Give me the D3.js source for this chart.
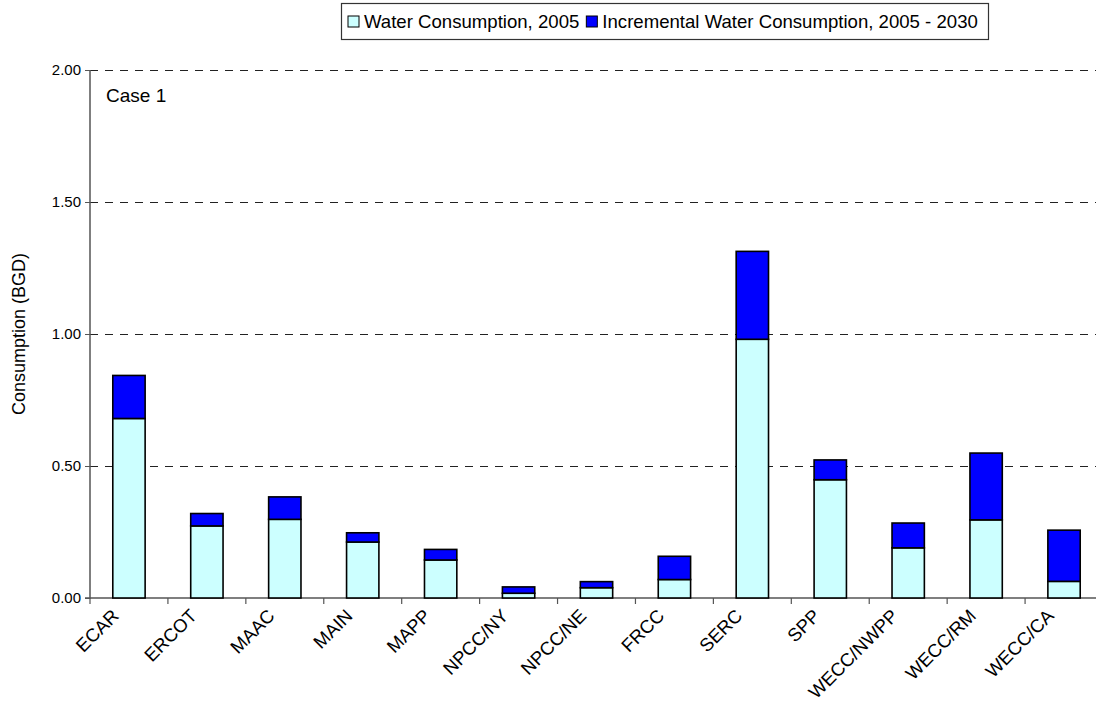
<!DOCTYPE html>
<html><head><meta charset="utf-8">
<script src="https://cdn.jsdelivr.net/npm/d3@7"></script>
<style>body{margin:0;background:#fff;} svg{display:block;font-family:"Liberation Sans",Arial,sans-serif;}</style>
</head><body><svg id="c" width="1096" height="702"></svg>
<script>
const categories = ["ECAR","ERCOT","MAAC","MAIN","MAPP","NPCC/NY","NPCC/NE","FRCC","SERC","SPP","WECC/NWPP","WECC/RM","WECC/CA"];
const base2005 = [0.68,0.273,0.298,0.212,0.144,0.018,0.039,0.07,0.98,0.448,0.19,0.296,0.063];
const incremental = [0.163,0.047,0.085,0.035,0.040,0.024,0.023,0.088,0.333,0.075,0.094,0.253,0.194];
const yTicks = [0,0.5,1.0,1.5,2.0];
const seriesNames = ["Water Consumption, 2005","Incremental Water Consumption, 2005 - 2030"];
const colors = ["#CCFFFF","#0000FF"];

const svg = d3.select("#c");
const L = 90, R = 1103, T = 70, B = 598;
const x = d3.scaleBand().domain(categories).range([L,R]).padding(0);
const y = d3.scaleLinear().domain([0,2]).range([B,T]);
const bw = x.bandwidth()*0.415;

// gridlines
svg.append("g").selectAll("line").data(yTicks.filter(d=>d>0)).join("line")
  .attr("x1",L).attr("x2",1096).attr("y1",d=>Math.round(y(d))+0.5).attr("y2",d=>Math.round(y(d))+0.5)
  .attr("stroke","#222").attr("stroke-width",1).attr("stroke-dasharray","8,7");

// y axis
const ya = svg.append("g").attr("transform",`translate(${L},0)`)
  .call(d3.axisLeft(y).tickValues(yTicks).tickFormat(d3.format(".2f")).tickSize(5).tickPadding(4));
ya.select(".domain").attr("stroke","#555").attr("stroke-width",1.5).attr("d",`M-5,${B}H0V${T}`);
ya.selectAll(".tick line").attr("stroke","#555");
ya.selectAll(".tick text").attr("font-size",15).attr("fill","#000").attr("font-family","Liberation Sans, Arial, sans-serif");

// x axis
const xa = svg.append("g").attr("transform",`translate(0,${B})`)
  .call(d3.axisBottom(x).tickSize(0).tickFormat(""));
xa.select(".domain").attr("stroke","#555").attr("stroke-width",1.5).attr("d",`M${L},0H1096`);
svg.append("g").selectAll("line").data(categories).join("line")
  .attr("x1",d=>x(d)).attr("x2",d=>x(d)).attr("y1",B).attr("y2",B+6)
  .attr("stroke","#555").attr("stroke-width",1.2);

// x labels
svg.append("g").selectAll("text").data(categories).join("text")
  .attr("transform",d=>`translate(${x(d)+x.bandwidth()/2-9},${B+19}) rotate(-45)`)
  .attr("text-anchor","end").attr("font-size",18.5).attr("fill","#000").text(d=>d);

// bars
const stacked = categories.map((c,i)=>({c, v0:base2005[i], v1:incremental[i]}));
const g = svg.append("g");
g.selectAll("rect.b").data(stacked).join("rect").attr("class","b")
  .attr("x",d=>x(d.c)+x.bandwidth()/2-bw/2).attr("width",bw)
  .attr("y",d=>y(d.v0)).attr("height",d=>B-y(d.v0))
  .attr("fill",colors[0]).attr("stroke","#000").attr("stroke-width",1.6);
g.selectAll("rect.i").data(stacked).join("rect").attr("class","i")
  .attr("x",d=>x(d.c)+x.bandwidth()/2-bw/2).attr("width",bw)
  .attr("y",d=>y(d.v0+d.v1)).attr("height",d=>y(d.v0)-y(d.v0+d.v1))
  .attr("fill",colors[1]).attr("stroke","#000").attr("stroke-width",1.6);

// y title
svg.append("text").attr("transform",`translate(25,${(T+B)/2}) rotate(-90)`)
  .attr("text-anchor","middle").attr("font-size",18).text("Consumption (BGD)");

// case label
svg.append("text").attr("x",106).attr("y",102).attr("font-size",19).text("Case 1");

// legend
const lg = svg.append("g");
lg.append("rect").attr("x",341.5).attr("y",3.5).attr("width",647).attr("height",36)
  .attr("fill","#fff").attr("stroke","#333").attr("stroke-width",1.2);
let cx = 348;
seriesNames.forEach((n,i)=>{
  lg.append("rect").attr("x",cx).attr("y",16).attr("width",11).attr("height",11)
    .attr("fill",colors[i]).attr("stroke","#000").attr("stroke-width",1);
  const t = lg.append("text").attr("x",cx+16).attr("y",27.5).attr("font-size",18.6).text(n);
  cx = cx + 16 + t.node().getComputedTextLength() + 7;
});
</script></body></html>
